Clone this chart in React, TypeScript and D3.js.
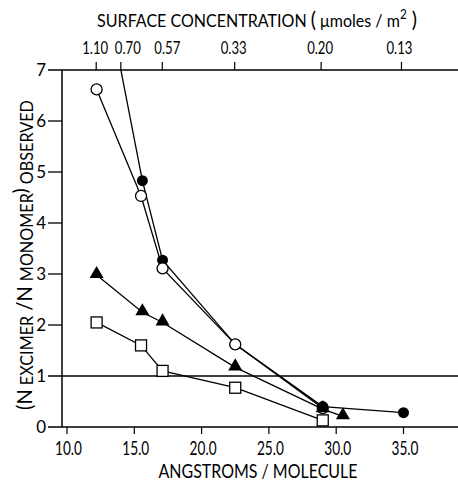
import React, { useEffect, useRef } from 'react';
import * as d3 from 'd3';

// area per molecule (Å²) for each series
const openCircleX = [12.2, 15.5, 17.1, 22.5, 29.0];
const openCircleY = [6.62, 4.53, 3.11, 1.62, 0.37];
const filledCircleX = [12.2, 15.6, 17.1, 22.5, 29.0, 35.0];
const filledCircleY = [9.45, 4.83, 3.27, 1.62, 0.4, 0.28];
const triangleX = [12.2, 15.6, 17.1, 22.5, 29.0, 30.5];
const triangleY = [2.98, 2.25, 2.05, 1.17, 0.35, 0.21];
const squareX = [12.2, 15.5, 17.1, 22.5, 29.0];
const squareY = [2.05, 1.6, 1.1, 0.77, 0.13];

const bottomTicks = [10, 15, 20, 25, 30, 35];
const yTicks = [0, 1, 2, 3, 4, 5, 6, 7];
// surface concentration ticks, placed at the matching area on the bottom scale
const topTickAreas = [12.17, 14.0, 17.08, 22.46, 28.88, 34.85];
const topTickLabels = ['1.10', '0.70', '0.57', '0.33', '0.20', '0.13'];

const FONT = 'Lato, "DejaVu Sans", sans-serif';

export default function App() {
  const ref = useRef<SVGSVGElement>(null);

  useEffect(() => {
    const W = 458;
    const svg = d3.select(ref.current);
    svg.selectAll('*').remove();

    const x = d3.scaleLinear().domain([10, 35]).range([67, 403.5]);
    const y = d3.scaleLinear().domain([0, 7]).range([427, 70]);
    const left = 62;

    const fit = (sel: any, target: number) => {
      const w = (sel.node() as SVGTextElement).getBBox().width;
      if (w > 0) sel.attr('transform', `scale(${target / w},1)`);
    };

    // clip region for data
    svg.append('defs').append('clipPath').attr('id', 'plot')
      .append('rect').attr('x', left).attr('y', y(7)).attr('width', W - left).attr('height', y(0) - y(7));

    // y axis line
    svg.append('line')
      .attr('x1', left).attr('x2', left).attr('y1', y(7)).attr('y2', y(0))
      .attr('stroke', '#000').attr('stroke-width', 1.5);

    // y ticks (0, 1 and 7 run across the whole plot)
    yTicks.forEach(t => {
      const full = t === 0 || t === 1 || t === 7;
      svg.append('line')
        .attr('x1', 48).attr('x2', full ? W : left)
        .attr('y1', y(t)).attr('y2', y(t))
        .attr('stroke', '#000').attr('stroke-width', full ? 1.6 : 1.3);
      svg.append('text')
        .attr('x', 46).attr('y', y(t) + 6)
        .attr('text-anchor', 'end')
        .attr('font-family', FONT).attr('font-size', 17)
        .text(t);
    });

    // bottom ticks
    bottomTicks.forEach(t => {
      svg.append('line')
        .attr('x1', x(t)).attr('x2', x(t)).attr('y1', y(0)).attr('y2', y(0) + 7)
        .attr('stroke', '#000').attr('stroke-width', 1.2);
      const g = svg.append('g').attr('transform', `translate(${x(t) + 1.5},455)`);
      const tx = g.append('text')
        .attr('text-anchor', 'middle')
        .attr('font-family', FONT).attr('font-size', 19)
        .text(d3.format('.1f')(t));
      fit(tx, 27);
    });

    // top ticks
    const nudge = [-1, 7, 5, -1, -1, -2];
    topTickAreas.forEach((a, i) => {
      svg.append('line')
        .attr('x1', x(a)).attr('x2', x(a)).attr('y1', y(7)).attr('y2', y(7) - 8)
        .attr('stroke', '#000').attr('stroke-width', 1.2);
      const g = svg.append('g').attr('transform', `translate(${x(a) + nudge[i]},54)`);
      const tx = g.append('text')
        .attr('text-anchor', 'middle')
        .attr('font-family', FONT).attr('font-size', 18)
        .text(topTickLabels[i]);
      fit(tx, 26);
    });

    // axis titles
    const bt = svg.append('g').attr('transform', 'translate(258,478)')
      .append('text').attr('text-anchor', 'middle')
      .attr('font-family', FONT).attr('font-size', 19)
      .text('ANGSTROMS / MOLECULE');
    fit(bt, 199);

    const tt = svg.append('g').attr('transform', 'translate(257,27)')
      .append('text').attr('text-anchor', 'middle')
      .attr('font-family', FONT).attr('font-size', 18);
    tt.append('tspan').text('SURFACE CONCENTRATION ');
    tt.append('tspan').attr('font-size', 22).text('(');
    tt.append('tspan').text(' μmoles / m');
    tt.append('tspan').attr('font-size', 13).attr('dy', -8).text('2');
    tt.append('tspan').attr('font-size', 22).attr('dy', 8).text(' )');
    fit(tt, 320);

    const yt = svg.append('g').attr('transform', 'translate(33,255) rotate(-90)')
      .append('text').attr('text-anchor', 'middle')
      .attr('font-family', FONT).attr('font-size', 17);
    yt.append('tspan').attr('font-size', 21).attr('dy', -1).text('(N');
    yt.append('tspan').attr('dy', 1).text(' EXCIMER');
    yt.append('tspan').attr('font-size', 21).attr('dy', -1).text(' /N ');
    yt.append('tspan').attr('dy', 1).text('MONOMER');
    yt.append('tspan').attr('font-size', 19).attr('dy', -6).text(')');
    yt.append('tspan').attr('dy', 6).text(' OBSERVED');
    fit(yt, 310);

    // data
    const plot = svg.append('g').attr('clip-path', 'url(#plot)');
    const line = d3.line<[number, number]>().x(d => x(d[0])).y(d => y(d[1]));
    const series = [
      { xs: filledCircleX, ys: filledCircleY, shape: 'filledCircle' },
      { xs: openCircleX, ys: openCircleY, shape: 'openCircle' },
      { xs: triangleX, ys: triangleY, shape: 'triangle' },
      { xs: squareX, ys: squareY, shape: 'square' },
    ];
    series.forEach(s => {
      const pts = s.xs.map((v, i) => [v, s.ys[i]] as [number, number]);
      plot.append('path').attr('d', line(pts))
        .attr('fill', 'none').attr('stroke', '#000').attr('stroke-width', 1.3);
    });

    // markers; filled circles at the low-density end sit on top of the cluster
    const markers: { shape: string; v: [number, number]; z: number }[] = [];
    series.forEach((s, si) => {
      s.xs.forEach((v, i) => {
        const z = s.shape === 'filledCircle' && v >= 29 ? 10 : si;
        markers.push({ shape: s.shape, v: [v, s.ys[i]], z });
      });
    });
    markers.sort((a, b) => a.z - b.z).forEach(m => {
      const cx = x(m.v[0]);
      const cy = y(m.v[1]);
      if (m.shape === 'openCircle') {
        plot.append('circle').attr('cx', cx).attr('cy', cy).attr('r', 5.5)
          .attr('fill', '#fff').attr('stroke', '#000').attr('stroke-width', 1.3);
      } else if (m.shape === 'filledCircle') {
        plot.append('circle').attr('cx', cx).attr('cy', cy).attr('r', 5.5).attr('fill', '#000');
      } else if (m.shape === 'triangle') {
        plot.append('path')
          .attr('d', d3.symbol().type(d3.symbolTriangle).size(85)())
          .attr('transform', `translate(${cx},${cy - 1})`).attr('fill', '#000');
      } else {
        plot.append('rect').attr('x', cx - 5.5).attr('y', cy - 5.5)
          .attr('width', 11).attr('height', 11)
          .attr('fill', '#fff').attr('stroke', '#000').attr('stroke-width', 1.3);
      }
    });
  }, []);

  return (
    <svg ref={ref} width={458} height={482}
      style={{ position: 'absolute', left: 0, top: 0, background: '#fff' }} />
  );
}
